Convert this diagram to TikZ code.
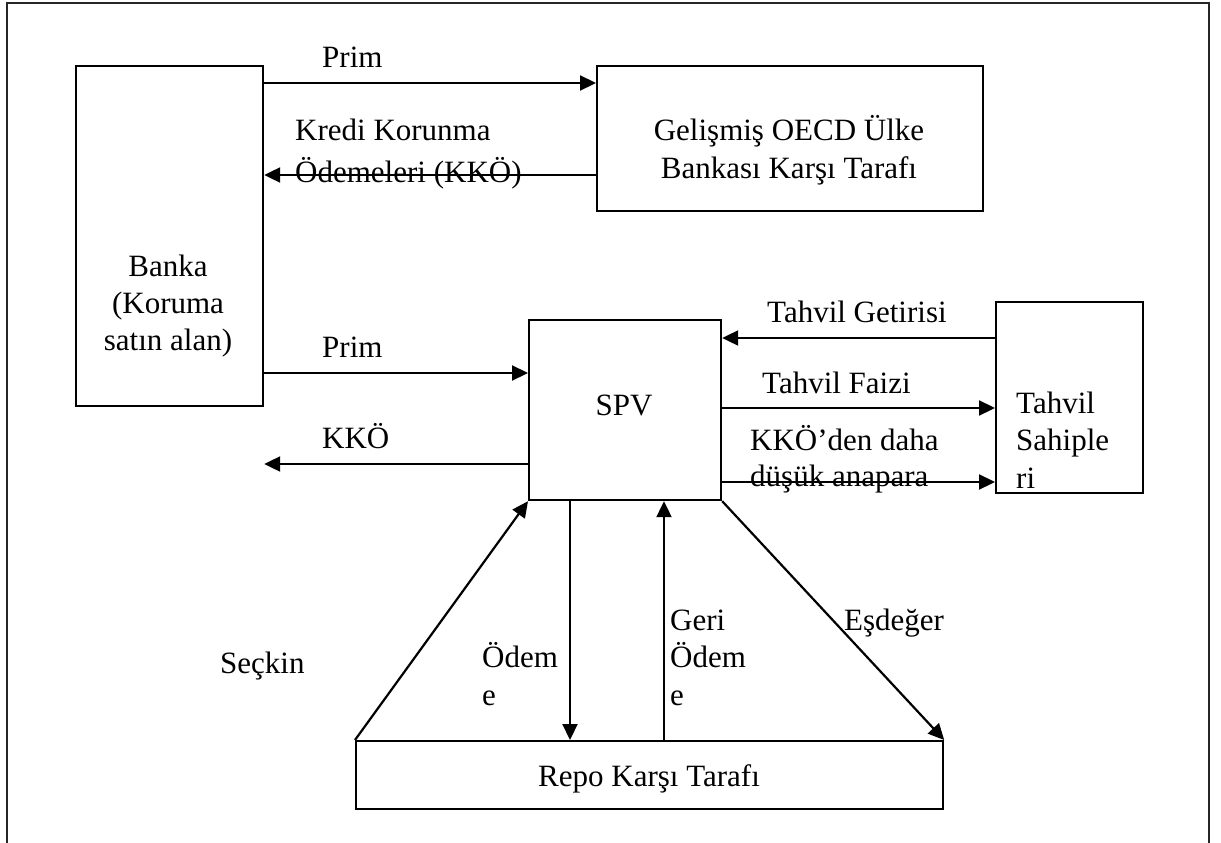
\documentclass[tikz,border=0pt]{standalone}
\usepackage{fontspec}
\setmainfont{Liberation Serif}
\usetikzlibrary{arrows.meta}
\begin{document}
\begin{tikzpicture}[x=1pt,y=-1pt,
  box/.style={draw,line width=2.2pt,rectangle,inner sep=0pt,anchor=north west},
  lbl/.style={inner sep=0pt,font=\fontsize{31}{37}\selectfont},
  arr/.style={line width=2.2pt,-{Triangle[length=16pt,width=15pt]}}]
  \useasboundingbox (0,0) rectangle (1221,843);
  % open frame around the chart
  \draw[line width=2.4pt,black!85] (7,843) -- (7,3) -- (1209,3) -- (1209,843);

  % boxes
  \node[box,minimum width=187,minimum height=340] (banka) at (75,65) {};
  \node[box,minimum width=386,minimum height=145] (oecd) at (596,65) {};
  \node[box,minimum width=192,minimum height=180] (spv) at (528,319) {};
  \node[box,minimum width=147,minimum height=191] (tahvil) at (995,301) {};
  \node[box,minimum width=587,minimum height=68] (repo) at (355,740) {};

  % box texts
  \node[lbl,anchor=base] (bankaA) at (168,276) {Banka};
  \node[lbl,anchor=base] (bankaB) at (168,313) {(Koruma};
  \node[lbl,anchor=base] (bankaC) at (168,350) {satın alan)};
  \node[lbl,anchor=base] (oecdA) at (789,140) {Gelişmiş OECD Ülke};
  \node[lbl,anchor=base] (oecdB) at (789,178) {Bankası Karşı Tarafı};
  \node[lbl,anchor=base] (spvA) at (624,415) {SPV};
  \node[lbl,anchor=base west] (tahvilA) at (1016,413) {Tahvil};
  \node[lbl,anchor=base west] (tahvilB) at (1016,450) {Sahiple};
  \node[lbl,anchor=base west] (tahvilC) at (1016,488) {ri};
  \node[lbl,anchor=base] (repoA) at (649,786) {Repo Karşı Tarafı};

  % Banka <-> OECD
  \draw[arr] (banka.east |- 0,83) -- (oecd.west |- 0,83);
  \draw[arr] (oecd.west |- 0,175) -- (banka.east |- 0,175);
  \node[lbl,anchor=base west] (l1) at (322,67) {Prim};
  \node[lbl,anchor=base west] (l2) at (295,140) {Kredi Korunma};
  \node[lbl,anchor=base west] (l3) at (295,182) {Ödemeleri (KKÖ)};

  % Banka <-> SPV
  \draw[arr] (banka.east |- 0,373) -- (spv.west |- 0,373);
  \draw[arr] (spv.west |- 0,464) -- (banka.east |- 0,464);
  \node[lbl,anchor=base west] (l4) at (322,357) {Prim};
  \node[lbl,anchor=base west] (l5) at (322,448) {KKÖ};

  % SPV <-> Tahvil Sahipleri
  \draw[arr] (tahvil.west |- 0,338) -- (spv.east |- 0,338);
  \draw[arr] (spv.east |- 0,408) -- (tahvil.west |- 0,408);
  \draw[arr] (spv.east |- 0,482) -- (tahvil.west |- 0,482);
  \node[lbl,anchor=base west] (l6) at (767,322) {Tahvil Getirisi};
  \node[lbl,anchor=base west] (l7) at (762,393) {Tahvil Faizi};
  \node[lbl,anchor=base west] (l8) at (750,450) {KKÖ’den daha};
  \node[lbl,anchor=base west] (l9) at (750,486) {düşük anapara};

  % SPV <-> Repo
  \draw[arr] (repo.north west) -- (spv.south west);
  \draw[arr] (spv.south -| 570,0) -- (repo.north -| 570,0);
  \draw[arr] (repo.north -| 664,0) -- (spv.south -| 664,0);
  \draw[arr] (spv.south east) -- (repo.north east);
  \node[lbl,anchor=base west] (l10) at (220,673) {Seçkin};
  \node[lbl,anchor=base west] (l11) at (482,667) {Ödem};
  \node[lbl,anchor=base west] (l12) at (482,705) {e};
  \node[lbl,anchor=base west] (l13) at (670,630) {Geri};
  \node[lbl,anchor=base west] (l14) at (670,667) {Ödem};
  \node[lbl,anchor=base west] (l15) at (670,705) {e};
  \node[lbl,anchor=base west] (l16) at (844,630) {Eşdeğer};
\end{tikzpicture}
\end{document}
